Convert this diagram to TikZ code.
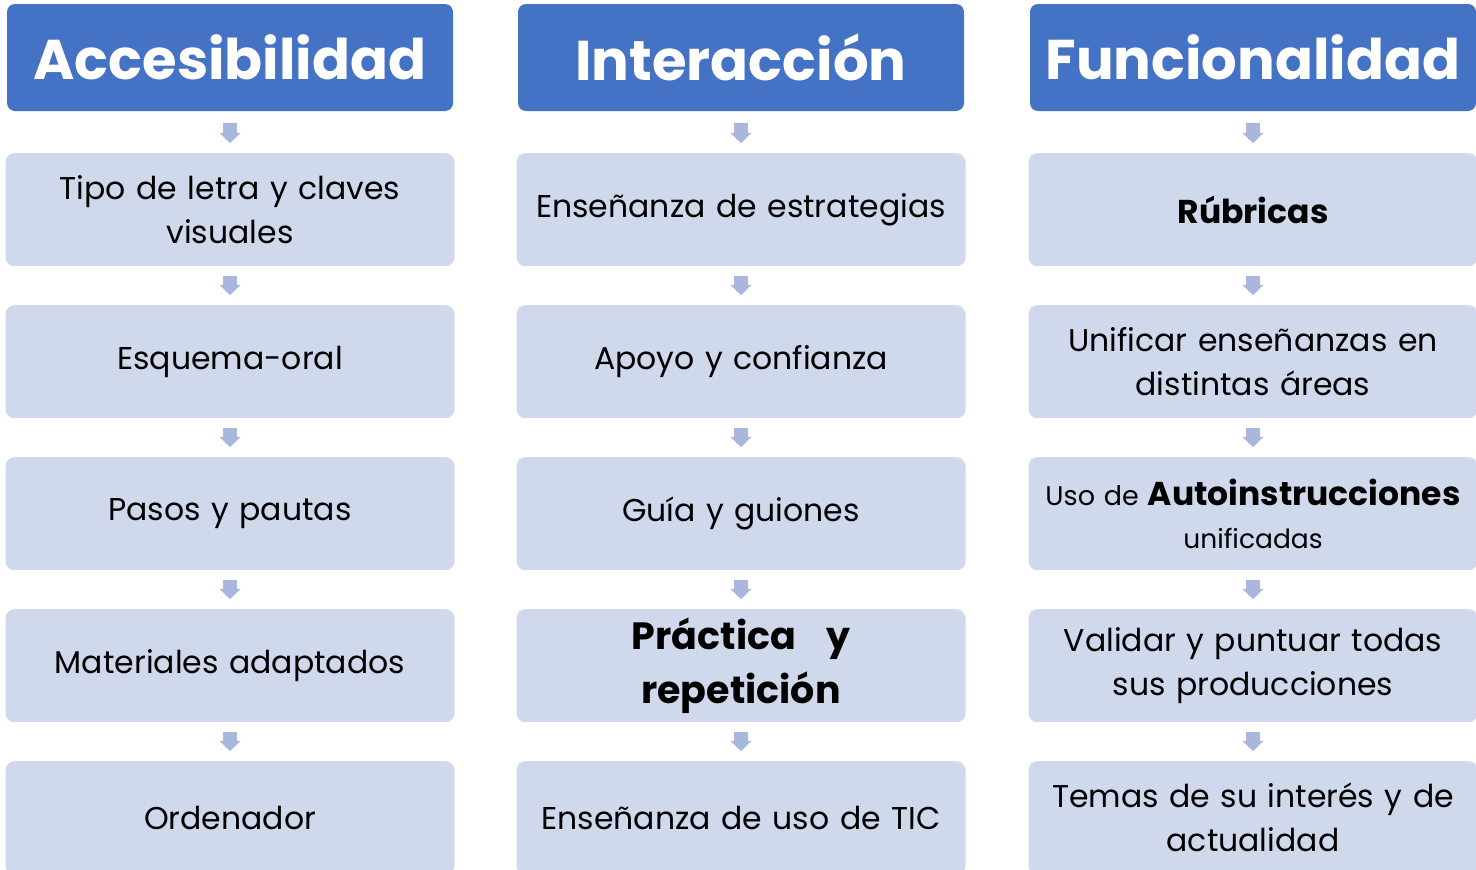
\documentclass[tikz,border=0pt]{standalone}
\usepackage{fontspec}
\setmainfont{Poppins}
\usetikzlibrary{positioning,arrows.meta}

\definecolor{azul}{HTML}{4472C4}
\definecolor{celeste}{HTML}{D0D8EC}
\definecolor{flechita}{HTML}{A9B6DD}

\tikzset{
	titulo/.style={fill=azul, rounded corners=8pt, minimum width=446pt, minimum height=107pt,
		inner sep=0pt, text=white, font=\fontsize{56}{70}\selectfont\bfseries},
	caja/.style={fill=celeste, draw=white, line width=1pt, rounded corners=9pt,
		minimum width=450pt, minimum height=114pt, text width=446pt, inner sep=0pt,
		align=center, font=\fontsize{31.5}{44}\selectfont},
	flecha/.style={draw=flechita, line width=14pt, -{Triangle[width=20pt,length=10pt]},
		shorten <=9pt, shorten >=9pt},
}

\begin{document}
\begin{tikzpicture}[x=1pt, y=-1pt]
	\useasboundingbox (0,0) rectangle (1476,870);
	\clip (0,0) rectangle (1476,870);

	% cabeceras
	\node [titulo] (acc) at (230,57.5) {Accesibilidad};
	\node [titulo] (int) at (741,57.5) {Interacción};
	\node [titulo] (fun) at (1253,57.5) {Funcionalidad};

	% columna 1
	\node [caja, below=41pt of acc] (acc1) {Tipo de letra y claves\\visuales};
	\node [caja, below=37pt of acc1] (acc2) {Esquema-oral};
	\node [caja, below=37pt of acc2] (acc3) {Pasos y pautas};
	\node [caja, below=37pt of acc3] (acc4) {Materiales adaptados};
	\node [caja, below=37pt of acc4] (acc5) {Ordenador};

	% columna 2
	\node [caja, below=41pt of int] (int1) {Enseñanza de estrategias};
	\node [caja, below=37pt of int1] (int2) {Apoyo y confianza};
	\node [caja, below=37pt of int2] (int3) {Guía y guiones};
	\node [caja, below=37pt of int3, font=\fontsize{38}{60}\selectfont\bfseries] (int4)
		{\raisebox{-6pt}{Práctica\hspace{30pt}y}\\repetición};
	\node [caja, below=37pt of int4] (int5) {Enseñanza de uso de TIC};

	% columna 3
	\node [caja, below=41pt of fun] (fun1) {\fontsize{33}{44}\selectfont\textbf{Rúbricas}};
	\node [caja, below=37pt of fun1] (fun2) {Unificar enseñanzas en\\distintas áreas};
	\node [caja, below=37pt of fun2, font=\fontsize{26.5}{43}\selectfont] (fun3)
		{{\fontsize{27}{43}\selectfont Uso de} {\fontsize{33}{43}\selectfont\bfseries Autoinstrucciones}\\unificadas};
	\node [caja, below=37pt of fun3] (fun4) {Validar y puntuar todas\\sus producciones};
	\node [caja, below=37pt of fun4] (fun5) {Temas de su interés y de\\actualidad};

	% flechas
	\foreach \c in {acc,int,fun}
	{
		\draw [flecha, shorten <=12pt] (\c) -- (\c1);
		\draw [flecha] (\c1) -- (\c2);
		\draw [flecha] (\c2) -- (\c3);
		\draw [flecha] (\c3) -- (\c4);
		\draw [flecha] (\c4) -- (\c5);
	}
\end{tikzpicture}
\end{document}
